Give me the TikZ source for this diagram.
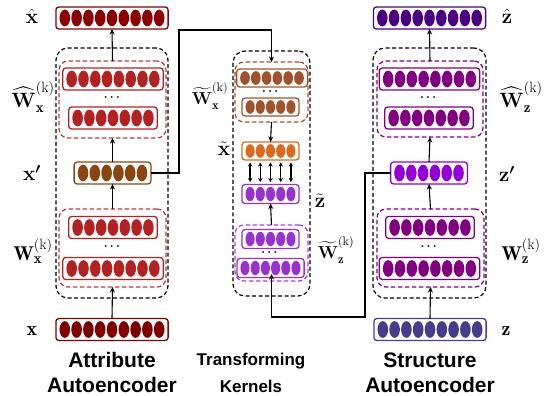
\documentclass[tikz,border=0pt]{standalone}
\usepackage{fontspec}
\usepackage{amsmath}
\usepackage{bm}
\DeclareMathSizes{20}{20}{15}{11}
\DeclareMathSizes{16.5}{16.5}{12.5}{9}
\newfontfamily\ttlfont{Liberation Sans}
\usetikzlibrary{arrows.meta,calc}
\definecolor{cxhat}{HTML}{8B0000}
\definecolor{cx}{HTML}{800000}
\definecolor{cred}{HTML}{B22222}
\definecolor{credd}{HTML}{B53A3A}
\definecolor{cbrown}{HTML}{8B4513}
\definecolor{csienna}{HTML}{A0522D}
\definecolor{corange}{HTML}{D96B1E}
\definecolor{corchid}{HTML}{9932CC}
\definecolor{corchidd}{HTML}{A040E0}
\definecolor{cindigo}{HTML}{4B0082}
\definecolor{cpurple}{HTML}{800080}
\definecolor{cviolet}{HTML}{9400D3}
\definecolor{cslate}{HTML}{483D8B}
\tikzset{
  lbox/.style={draw, rounded corners=3pt, line width=1.3pt, inner sep=0pt, outer sep=0pt, fill=white},
  outerd/.style={draw=black, line width=1.2pt, dash pattern=on 4pt off 2.5pt, rounded corners=12pt, inner sep=0pt, outer sep=0pt},
  innerd/.style={line width=1.2pt, dash pattern=on 4.5pt off 2.5pt, rounded corners=9pt, inner sep=0pt, outer sep=0pt},
  arr/.style={line width=1.1pt, -{Stealth[length=5.5pt,width=5pt]}},
  conn/.style={line width=1.3pt, -{Stealth[length=5.5pt,width=5pt]}},
  dbl/.style={line width=1.4pt, {Stealth[length=4pt,width=4.5pt]}-{Stealth[length=4pt,width=4.5pt]}},
  mlab/.style={font=\fontsize{20}{24}\selectfont, inner sep=0pt},
  slab/.style={font=\fontsize{16.5}{20}\selectfont, inner sep=0pt},
  ttl/.style={font=\ttlfont\bfseries\fontsize{21}{24}\selectfont, inner sep=0pt, align=center},
  ttls/.style={font=\ttlfont\bfseries\fontsize{17}{20}\selectfont, inner sep=0pt, align=center},
  dotsn/.style={font=\fontsize{13}{15}\selectfont, inner sep=0pt},
}
% #1 name, #2 x, #3 y, #4 count, #5 colour, #6 pitch, #7 height
\newcommand{\lyr}[7]{%
  \node[lbox, draw=#5, minimum width={#4*#6+6}, minimum height={#7}] (#1) at (#2,#3) {};
  \foreach \i in {1,...,#4}{
    \fill[#5] ($(#1.center)+({(\i-(#4+1)/2)*#6},0)$) ellipse [x radius=#6*0.45pt, y radius=#7*0.38pt];
  }%
}
% #1 name, #2 style, #3 cx, #4 cy, #5 w, #6 h
\newcommand{\dbx}[6]{%
  \node[#2, minimum width=#5, minimum height=#6] (#1) at (#3,#4) {};%
}
\begin{document}
\begin{tikzpicture}[x=1pt,y=-1pt]
\useasboundingbox (0,0) rectangle (546,396);
% ---------- Left column ----------
\dbx{lout}{outerd}{112}{173}{112}{250}
\dbx{ldec}{innerd,draw=credd}{112.5}{99.5}{107}{77}
\dbx{lenc}{innerd,draw=credd}{112.5}{248}{107}{78}
\lyr{xhat}{112}{18}{9}{cxhat}{11.8}{22}
\lyr{dra}{113}{79}{8}{cred}{11.8}{22}
\lyr{drb}{113}{118}{7}{cred}{11.8}{22}
\lyr{xp}{112.5}{173}{6}{cbrown}{11.8}{22}
\lyr{era}{113}{227.5}{7}{cred}{11.8}{22}
\lyr{erb}{113}{268.5}{8}{cred}{11.8}{22}
\lyr{x}{112}{329.5}{9}{cx}{11.8}{22}
\node[dotsn] (ldd) at ($(dra.south)!0.45!(drb.north)$) {$\bm{\cdots}$};
\node[dotsn] (led) at ($(era.south)!0.45!(erb.north)$) {$\bm{\cdots}$};
% ---------- Middle column ----------
\dbx{mout}{outerd}{271.5}{173.5}{77}{245}
\dbx{mbr}{innerd,draw=csienna}{271.5}{92}{73}{60}
\dbx{mpu}{innerd,draw=corchidd}{271.5}{253}{73}{56}
\lyr{bra}{272}{78}{6}{csienna}{10.8}{18}
\lyr{brb}{270.5}{107}{5}{csienna}{10.2}{18}
\lyr{xt}{270.5}{151}{5}{corange}{10.2}{18}
\lyr{zt}{270.5}{194}{5}{corchid}{10.2}{19}
\lyr{pua}{270.5}{239}{5}{corchid}{10.2}{19}
\lyr{pub}{270.5}{268}{6}{corchid}{10.2}{19}
\node[dotsn] (mbd) at ($(bra.south)!0.4!(brb.north)$) {$\bm{\cdots}$};
\node[dotsn] (mpd) at ($(pua.south)!0.45!(pub.north)$) {$\bm{\cdots}$};
% ---------- Right column ----------
\dbx{rout}{outerd}{429.5}{173}{113}{250}
\dbx{rdec}{innerd,draw=cpurple}{430}{99}{106}{76}
\dbx{renc}{innerd,draw=cpurple}{430.5}{248}{107}{78}
\lyr{zhat}{429.5}{18}{9}{cindigo}{11.8}{22}
\lyr{rda}{429.5}{79}{8}{cpurple}{11.8}{22}
\lyr{rdb}{429}{118}{7}{cpurple}{11.8}{22}
\lyr{zp}{429}{173}{6}{cviolet}{11.8}{22}
\lyr{rea}{430}{227.5}{7}{cpurple}{11.8}{22}
\lyr{reb}{429.5}{268.5}{8}{cpurple}{11.8}{22}
\lyr{z}{430}{329.5}{9}{cslate}{11.8}{22}
\node[dotsn] (rdd) at ($(rda.south)!0.45!(rdb.north)$) {$\bm{\cdots}$};
\node[dotsn] (red) at ($(rea.south)!0.45!(reb.north)$) {$\bm{\cdots}$};
% ---------- Arrows ----------
\draw[arr] (x.north) -- (lenc.south);
\draw[arr] (lenc.north) -- (xp.south);
\draw[arr] (xp.north) -- (ldec.south);
\draw[arr] (ldec.north) -- (xhat.south);
\draw[arr] (z.north) -- (renc.south);
\draw[arr] (renc.north) -- (zp.south);
\draw[arr] (zp.north) -- (rdec.south);
\draw[arr] (rdec.north) -- (zhat.south);
\draw[arr] (mbr.south) -- (xt.north);
\draw[arr] (mpu.north) -- (zt.south);
\foreach \k in {-2,-1,0,1,2}{
  \draw[dbl] ($(xt.south)+({\k*10.2},2.5)$) -- ($(zt.north)+({\k*10.2},-2.5)$);
}
\coordinate (ctop) at (179,30);
\coordinate (cbot) at (365,317);
\draw[conn] (xp.east) -| (ctop) -| (mbr.north);
\draw[conn] (zp.west) -| (cbot) -| ([yshift=7pt]mpu.south);
% ---------- Labels ----------
\node[mlab] (lxhat) at (32,16) {$\bm{\hat{\mathbf{x}}}$};
\node[mlab] (lwhx) at (33,97) {$\bm{\widehat{\mathbf{W}}}_{\mathbf{x}}^{(\mathrm{k})}$};
\node[mlab] (lxp) at (32,173) {$\bm{\mathbf{x}'}$};
\node[mlab] (lwx) at (33,251) {$\mathbf{W}_{\mathbf{x}}^{(\mathrm{k})}$};
\node[mlab] (lx) at (32,331) {$\mathbf{x}$};
\node[slab] (lwtx) at (210,96) {$\bm{\widetilde{\mathbf{W}}}_{\mathbf{x}}^{(\mathrm{k})}$};
\node[mlab] (lxt) at (224,149) {$\bm{\tilde{\mathbf{x}}}$};
\node[mlab] (lzt) at (320,201) {$\bm{\tilde{\mathbf{z}}}$};
\node[slab] (lwtz) at (336,250) {$\bm{\widetilde{\mathbf{W}}}_{\mathbf{z}}^{(\mathrm{k})}$};
\node[mlab] (lzhat) at (507,16) {$\bm{\hat{\mathbf{z}}}$};
\node[mlab] (lwhz) at (521,97) {$\bm{\widehat{\mathbf{W}}}_{\mathbf{z}}^{(\mathrm{k})}$};
\node[mlab] (lzp) at (507,174) {$\bm{\mathbf{z}'}$};
\node[mlab] (lwz) at (521,251) {$\mathbf{W}_{\mathbf{z}}^{(\mathrm{k})}$};
\node[mlab] (lz) at (506,331) {$\mathbf{z}$};
% ---------- Titles ----------
\node[ttl] (t1a) at (112,360) {Attribute};
\node[ttl] (t1b) at (112,385) {Autoencoder};
\node[ttls] (t2a) at (251,361) {Transforming};
\node[ttls] (t2b) at (251,386) {Kernels};
\node[ttl] (t3a) at (430,360) {Structure};
\node[ttl] (t3b) at (430,385) {Autoencoder};
\end{tikzpicture}
\end{document}
